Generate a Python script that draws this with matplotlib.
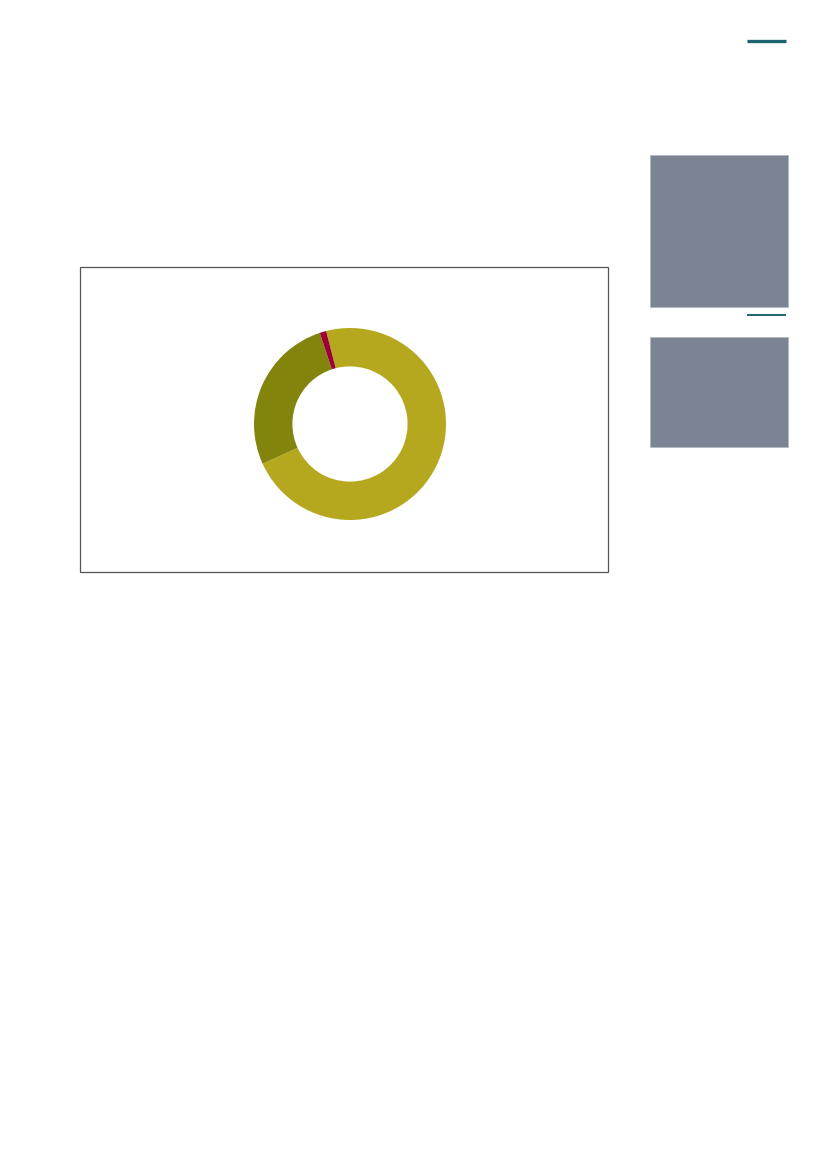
import matplotlib
matplotlib.use("Agg")
import matplotlib.pyplot as plt
from matplotlib.patches import Rectangle

# donut shares (percent), clockwise from the top
labels = ["A", "B", "C"]
shares = [72.2, 26.7, 1.1]
colors = ["#B5A81F", "#82840C", "#9E0036"]

W, H = 827, 1169
fig = plt.figure(figsize=(W / 100, H / 100), dpi=100)

# page layer in pixel coordinates --------------
page = fig.add_axes([0, 0, 1, 1])
page.set_xlim(0, W)
page.set_ylim(H, 0)
page.axis("off")

# teal rules
page.plot([747, 786], [41, 41], color="#1E6470", lw=2.4, solid_capstyle="butt")
page.plot([747, 786], [315, 315], color="#1E6470", lw=1.4, solid_capstyle="butt")

# grey side boxes
page.add_patch(Rectangle((650, 155), 138, 152, facecolor="#7B8493",
                         edgecolor="#B4B8C2", lw=0.6))
page.add_patch(Rectangle((650, 337), 138, 110, facecolor="#7B8493",
                         edgecolor="#B4B8C2", lw=0.6))

# chart frame
page.add_patch(Rectangle((80.0, 267.0), 528, 305, facecolor="none",
                         edgecolor="#555555", lw=0.9))

# donut -----------------------------------------
cx, cy, r = 350, 424, 96
ax = fig.add_axes([(cx - r) / W, 1 - (cy + r) / H, 2 * r / W, 2 * r / H])
ax.pie(shares, colors=colors, startangle=104.4, counterclock=False,
       radius=1.0, wedgeprops=dict(width=0.4, linewidth=0))
ax.set_xlim(-1, 1)
ax.set_ylim(-1, 1)
ax.axis("off")

fig.savefig("out.png", dpi=100)
